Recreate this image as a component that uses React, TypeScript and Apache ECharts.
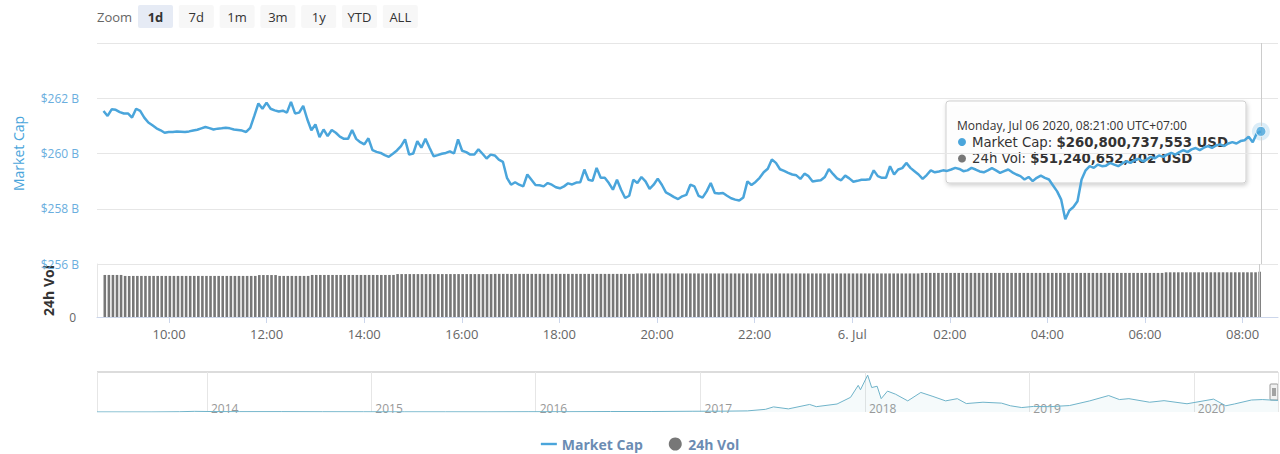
import React, { useEffect, useRef } from "react";
import * as echarts from "echarts";

// ---- data (billions USD) ----
const START = Date.UTC(2020, 6, 5, 8, 41); // local time (UTC+07:00) stored as UTC
const STEP_MIN = 5;

const marketCap: number[] = [
  261.54, 261.36, 261.6, 261.58, 261.5, 261.45, 261.45, 261.3, 261.62, 261.54,
  261.3, 261.12, 261.02, 260.91, 260.84, 260.75, 260.78, 260.78, 260.8, 260.79,
  260.78, 260.8, 260.83, 260.86, 260.91, 260.96, 260.92, 260.87, 260.9, 260.91,
  260.93, 260.91, 260.87, 260.85, 260.83, 260.78, 260.93, 261.36, 261.81, 261.62,
  261.84, 261.62, 261.56, 261.52, 261.55, 261.48, 261.87, 261.45, 261.48, 261.72,
  261.24, 260.84, 261.05, 260.59, 260.87, 260.63, 260.85, 260.75, 260.61, 260.53,
  260.53, 260.85, 260.53, 260.41, 260.33, 260.55, 260.12, 260.06, 260.02, 259.94,
  259.88, 259.99, 260.11, 260.27, 260.51, 259.96, 260.0, 260.45, 260.21, 260.53,
  260.21, 259.9, 259.94, 259.99, 260.02, 260.08, 260.0, 260.51, 260.1, 260.05,
  259.96, 259.96, 260.15, 259.99, 259.82, 259.96,
  259.93, 259.78, 259.7, 259.12, 258.87, 258.96, 258.87, 258.81, 259.24, 259.05,
  258.86, 258.85, 258.81, 258.93, 258.87, 258.78, 258.74, 258.81, 258.92, 258.88,
  258.95, 258.96, 259.42, 259.05, 259.01, 259.48, 259.12, 259.12, 258.93, 258.69,
  259.05, 258.69, 258.39, 258.47, 259.05, 258.93, 259.15, 258.99, 258.72, 258.87,
  259.09, 258.87, 258.59, 258.51, 258.42, 258.35, 258.45, 258.5, 258.87, 258.81,
  258.47, 258.4, 258.63, 258.93, 258.57, 258.55, 258.57, 258.47, 258.38, 258.33,
  258.3, 258.41, 258.99, 258.86, 258.97, 259.12, 259.32, 259.45, 259.78, 259.66,
  259.43, 259.37, 259.3, 259.24, 259.21, 259.08, 259.27, 259.18, 258.99, 259.01,
  259.03, 259.15, 259.44, 259.26, 259.1, 259.03, 259.2, 259.1, 258.98, 259.01,
  259.05, 259.05, 259.07, 259.39, 259.18,
  259.12, 259.12, 259.54, 259.24, 259.42, 259.47, 259.66, 259.48, 259.36, 259.24,
  259.08, 259.22, 259.39, 259.32, 259.35, 259.39, 259.37, 259.42, 259.48, 259.44,
  259.36, 259.39, 259.48, 259.42, 259.35, 259.32, 259.39, 259.47, 259.39, 259.3,
  259.36, 259.42, 259.32, 259.24, 259.18, 259.06, 259.15, 259.0, 259.12, 259.2,
  259.12, 259.06, 258.84, 258.63, 258.33, 257.62, 257.94, 258.06, 258.27, 259.06,
  259.39, 259.54, 259.48, 259.6, 259.54, 259.56, 259.66, 259.6, 259.54, 259.64,
  259.72, 259.66, 259.76, 259.81, 259.72, 259.78, 259.88, 259.83, 259.93, 259.88,
  259.96, 260.02, 259.96, 260.05, 260.12, 260.05, 260.15, 260.2, 260.12, 260.21,
  260.27, 260.2, 260.29, 260.33, 260.27, 260.36, 260.41, 260.36, 260.45, 260.48,
  260.61, 260.41, 260.73, 260.800737553,
];

const volume24h: number[] = [
  47.6, 47.6, 47.6, 47.6, 47.6, 46.5, 46.5, 46.5, 46.5, 46.5,
  46.5, 46.5, 46.5, 46.5, 46.5, 46.5, 46.5, 46.5, 46.5, 46.5,
  46.5, 46.5, 46.5, 46.5, 46.5, 46.5, 46.5, 46.5, 46.5, 46.5,
  46.5, 46.5, 46.5, 46.5, 46.5, 46.5, 46.5, 46.5, 47.5, 47.5,
  47.5, 47.5, 47.5, 46.5, 46.5, 46.5, 46.5, 46.5, 46.5, 46.5,
  46.5, 47.6, 47.6, 47.6, 47.6, 47.6, 47.6, 47.6, 47.6, 47.6,
  47.6, 47.6, 47.6, 47.6, 47.6, 47.6, 47.6, 47.6, 47.6, 47.6,
  47.6, 47.6, 48.6, 48.6, 48.6, 48.6, 48.6, 48.6, 48.6, 48.6,
  48.6, 48.6, 48.6, 48.6, 48.6, 48.6, 48.6, 48.6, 48.6, 48.6,
  48.6, 48.6, 48.6, 48.6, 48.6, 48.6, 48.8, 48.8, 48.8, 48.8,
  48.8, 48.8, 48.8, 48.8, 48.8, 48.8, 48.8, 48.8, 48.8, 48.8,
  48.8, 48.8, 48.8, 48.8, 48.8, 48.8, 48.8, 48.8, 48.8, 48.8,
  48.8, 48.8, 48.8, 48.8, 48.8, 48.8, 48.8, 48.8, 48.8, 48.8,
  48.8, 49.3, 49.3, 49.3, 49.3, 49.3, 49.3, 49.3, 49.3, 49.3,
  49.3, 49.3, 49.3, 49.3, 49.3, 49.3, 49.3, 49.3, 49.3, 49.3,
  49.3, 49.3, 49.3, 49.3, 49.3, 49.3, 49.3, 49.3, 49.3, 49.3,
  49.3, 49.3, 49.3, 49.3, 49.3, 49.3, 49.3, 49.3, 49.3, 49.3,
  49.3, 49.3, 49.3, 49.3, 49.3, 49.3, 49.3, 49.3, 49.3, 49.3,
  49.3, 49.3, 49.3, 49.3, 49.3, 49.3, 49.3, 49.3, 49.3, 49.3,
  49.3, 49.3, 49.3, 49.3, 49.3, 49.3, 49.3, 49.3, 49.3, 49.3,
  49.3, 49.9, 49.9, 49.9, 49.9, 49.9, 49.9, 49.9, 49.9, 49.9,
  49.9, 49.9, 49.9, 49.9, 49.9, 49.9, 49.9, 49.9, 49.9, 49.9,
  49.9, 49.9, 49.9, 49.9, 49.9, 49.9, 49.9, 49.9, 49.9, 49.9,
  49.9, 49.9, 49.9, 49.9, 49.9, 49.9, 49.9, 49.9, 49.9, 49.9,
  49.9, 49.9, 49.9, 49.9, 49.9, 49.9, 49.9, 49.9, 49.9, 49.9,
  49.9, 49.9, 49.9, 49.9, 49.9, 49.9, 49.9, 49.9, 49.9, 49.9,
  49.9, 50.6, 50.6, 50.6, 50.6, 50.6, 50.6, 50.6, 50.6, 50.6,
  50.6, 50.6, 50.6, 50.6, 50.6, 50.6, 50.6, 50.6, 50.6, 50.6,
  50.6, 50.6, 50.6, 50.6, 51.240652402,
];

// navigator: full history of total market cap (billions)
const navDates: string[] = [
  "2013-05-02", "2013-07-01", "2013-09-01", "2013-11-01", "2013-12-04", "2014-01-15",
  "2014-03-15", "2014-06-15", "2014-09-15", "2014-12-15", "2015-03-15", "2015-06-15",
  "2015-09-15", "2015-12-15", "2016-03-15", "2016-06-15", "2016-09-15", "2016-12-15",
  "2017-02-15", "2017-04-15", "2017-05-25", "2017-06-12", "2017-07-15", "2017-08-31",
  "2017-09-15", "2017-10-31", "2017-11-30", "2017-12-17", "2017-12-22", "2018-01-07",
  "2018-01-16", "2018-01-28", "2018-02-06", "2018-02-20", "2018-03-10", "2018-04-06",
  "2018-05-05", "2018-06-01", "2018-06-29", "2018-07-25", "2018-08-14", "2018-09-20",
  "2018-10-31", "2018-11-20", "2018-12-15", "2019-01-10", "2019-02-15", "2019-03-31",
  "2019-05-15", "2019-06-26", "2019-07-20", "2019-08-10", "2019-09-25", "2019-10-27",
  "2019-12-17", "2020-02-14", "2020-03-12", "2020-03-31", "2020-05-08", "2020-06-01",
  "2020-07-06",
];
const navCaps: number[] = [
  1.5, 1.2, 1.6, 6, 15, 10,
  8, 8.5, 6, 5, 4, 4,
  3.8, 6.5, 7, 11, 11, 17,
  18, 25, 60, 115, 70, 170,
  120, 180, 330, 600, 500, 830,
  550, 580, 300, 470, 400, 250,
  440, 350, 250, 300, 190, 220,
  200, 140, 100, 125, 120, 145,
  250, 370, 280, 300, 220, 255,
  185, 290, 140, 180, 270, 280,
  260,
];

const priceTicks = { min: 256, max: 264, step: 2 };
const volumeMax = 60;
const navMaxCap = 900;
const zoomButtons: string[] = ["1d", "7d", "1m", "3m", "1y", "YTD", "ALL"];
const selectedZoom = "1d";

const FONT = "'Open Sans', sans-serif";
const TIP_FONT = "'DejaVu Sans', Verdana, sans-serif";
const LINE_BLUE = "#4aa5db";

const times = marketCap.map((_, i) => START + i * STEP_MIN * 60000);
const lastT = times[times.length - 1];
const lastCap = marketCap[marketCap.length - 1];
const lastVol = volume24h[volume24h.length - 1];

const pad = (n: number) => (n < 10 ? "0" + n : "" + n);
const DAYS = ["Sunday", "Monday", "Tuesday", "Wednesday", "Thursday", "Friday", "Saturday"];
const MONTHS = ["Jan", "Feb", "Mar", "Apr", "May", "Jun", "Jul", "Aug", "Sep", "Oct", "Nov", "Dec"];
const fmtUsd = (b: number) => "$" + Math.round(b * 1e9).toLocaleString("en-US") + " USD";

function tooltipDate(t: number) {
  const d = new Date(t);
  return `${DAYS[d.getUTCDay()]}, ${MONTHS[d.getUTCMonth()]} ${pad(d.getUTCDate())} ${d.getUTCFullYear()}, ${pad(
    d.getUTCHours()
  )}:${pad(d.getUTCMinutes())}:00 UTC+07:00`;
}

export default function App() {
  const ref = useRef<HTMLDivElement>(null);

  useEffect(() => {
    document.body.style.margin = "0";
    if (!ref.current) return;
    const chart = echarts.init(ref.current, null, { renderer: "svg" });

    const xMin = Date.UTC(2020, 6, 5, 8, 33);
    const xMax = Date.UTC(2020, 6, 6, 8, 42);
    const navMin = Date.UTC(2013, 4, 2);
    const navMax = Date.UTC(2020, 6, 6);

    const buttons = zoomButtons.map((b, i) => {
      const sel = b === selectedZoom;
      return {
        type: "group",
        x: 138 + i * 40.8,
        y: 5,
        children: [
          {
            type: "rect",
            shape: { x: 0, y: 0, width: 35, height: 23, r: 2 },
            style: { fill: sel ? "#e6ebf5" : "#f7f7f7" },
          },
          {
            type: "text",
            style: {
              text: b,
              x: 17.5,
              y: 11.5,
              align: "center",
              verticalAlign: "middle",
              fill: "#333",
              fontSize: 13,
              fontWeight: sel ? "bold" : "normal",
              fontFamily: FONT,
            },
          },
        ],
      };
    });

    const rowRich = {
      l: { fill: "#333", color: "#333", fontSize: 13.3, lineHeight: 15, fontFamily: TIP_FONT },
      v: { fill: "#333", color: "#333", fontSize: 13.3, lineHeight: 15, fontWeight: "bold", fontFamily: TIP_FONT },
    };

    const option: any = {
      animation: false,
      useUTC: true,
      textStyle: { fontFamily: FONT },
      grid: [
        { left: 97, right: 2, top: 43, height: 221 },
        { left: 97, right: 2, top: 264, height: 53 },
        { left: 97, right: 2, top: 372, height: 40 },
      ],
      xAxis: [
        { type: "time", gridIndex: 0, min: xMin, max: xMax, show: false },
        {
          type: "time",
          gridIndex: 1,
          min: xMin,
          max: xMax,
          splitNumber: 12,
          axisLine: { show: true, lineStyle: { color: "#ccd6eb" } },
          axisTick: { show: true, length: 6, lineStyle: { color: "#ccd6eb" } },
          splitLine: { show: false },
          axisLabel: {
            color: "#666",
            fontSize: 13,
            margin: 10,
            formatter: (v: number) => {
              const d = new Date(v);
              const h = d.getUTCHours();
              if (h === 0) return `${d.getUTCDate()}. ${MONTHS[d.getUTCMonth()]}`;
              return `${pad(h)}:${pad(d.getUTCMinutes())}`;
            },
          },
        },
        {
          type: "time",
          gridIndex: 2,
          min: navMin,
          max: navMax,
          minInterval: 365 * 24 * 3600 * 1000,
          axisLine: { show: false },
          axisTick: { show: false },
          splitLine: { show: true, lineStyle: { color: "#e6e6e6" } },
          axisLabel: {
            inside: true,
            align: "left",
            margin: -2,
            padding: [0, 0, 0, 4],
            color: "#999",
            fontSize: 12,
            formatter: (v: number) => String(new Date(v).getUTCFullYear()),
          },
        },
      ],
      yAxis: [
        {
          type: "value",
          gridIndex: 0,
          min: priceTicks.min,
          max: priceTicks.max,
          interval: priceTicks.step,
          name: "Market Cap",
          nameLocation: "middle",
          nameGap: 72,
          nameTextStyle: { color: LINE_BLUE, fontSize: 14, fontFamily: FONT },
          axisLine: { show: false },
          axisTick: { show: false },
          splitLine: { lineStyle: { color: "#e6e6e6" } },
          axisLabel: {
            color: "#6aaede",
            fontSize: 12,
            margin: 18,
            showMaxLabel: false,
            formatter: (v: number) => `$${v} B`,
          },
        },
        {
          type: "value",
          gridIndex: 1,
          min: 0,
          max: volumeMax,
          interval: volumeMax,
          name: "24h Vol",
          nameLocation: "middle",
          nameGap: 42,
          nameTextStyle: { color: "#333", fontSize: 14, fontWeight: "bold", fontFamily: FONT },
          axisLine: { show: true, lineStyle: { color: "#e6e6e6" } },
          axisTick: { show: false },
          splitLine: { show: false },
          axisLabel: {
            color: "#666",
            fontSize: 12,
            margin: 21,
            formatter: (v: number) => (v === 0 ? "0" : ""),
          },
        },
        { type: "value", gridIndex: 2, min: 0, max: navMaxCap, show: false },
      ],
      legend: {
        top: 432,
        left: "center",
        itemGap: 26,
        itemWidth: 16,
        itemHeight: 13,
        symbolKeepAspect: true,
        data: [
          { name: "Market Cap", icon: "path://M0 0H16V2.4H0Z" },
          { name: "24h Vol", icon: "circle" },
        ],
        textStyle: { color: "#6b8cb3", fontSize: 14, fontWeight: "bold", fontFamily: FONT },
      },
      series: [
        {
          name: "Market Cap",
          type: "line",
          xAxisIndex: 0,
          yAxisIndex: 0,
          symbol: "none",
          data: times.map((t, i) => [t, marketCap[i]]),
          lineStyle: { color: LINE_BLUE, width: 2.5 },
          itemStyle: { color: LINE_BLUE },
          markLine: {
            silent: true,
            symbol: ["none", "none"],
            label: { show: false },
            lineStyle: { color: "#cccccc", width: 1, type: "solid" },
            data: [{ xAxis: lastT }],
          },
          z: 3,
        },
        {
          type: "scatter",
          xAxisIndex: 0,
          yAxisIndex: 0,
          symbolSize: 18,
          data: [[lastT, lastCap]],
          itemStyle: { color: "rgba(74,165,219,0.25)" },
          z: 4,
        },
        {
          type: "scatter",
          xAxisIndex: 0,
          yAxisIndex: 0,
          symbolSize: 10,
          data: [[lastT, lastCap]],
          itemStyle: { color: LINE_BLUE, borderColor: "#fff", borderWidth: 1 },
          z: 5,
        },
        {
          name: "24h Vol",
          type: "bar",
          xAxisIndex: 1,
          yAxisIndex: 1,
          barWidth: 2.6,
          data: times.map((t, i) => [t, volume24h[i]]),
          itemStyle: { color: "#777" },
          markLine: {
            silent: true,
            symbol: ["none", "none"],
            label: { show: false },
            lineStyle: { color: "#cccccc", width: 1, type: "solid" },
            data: [{ xAxis: lastT }],
          },
        },
        {
          type: "line",
          xAxisIndex: 2,
          yAxisIndex: 2,
          symbol: "none",
          data: navDates.map((d, i) => [Date.parse(d + "T00:00:00Z"), navCaps[i]]),
          lineStyle: { color: "#6fb3c9", width: 1 },
          areaStyle: { color: "rgba(111,179,201,0.1)" },
        },
      ],
      graphic: [
        {
          type: "text",
          x: 97,
          y: 16.5,
          style: { text: "Zoom", fill: "#666", fontSize: 13, fontFamily: FONT, verticalAlign: "middle" },
        },
        ...buttons,
        {
          type: "rect",
          shape: { x: 97, y: 371, width: 1181, height: 2 },
          style: { fill: "#dcdcdc" },
        },
        {
          type: "group",
          x: 1270,
          y: 384,
          z: 50,
          children: [
            { type: "rect", shape: { x: 0, y: 0, width: 8, height: 16, r: 1 }, style: { fill: "#f2f2f2", stroke: "#999", lineWidth: 1 } },
            { type: "line", shape: { x1: 3, y1: 4, x2: 3, y2: 12 }, style: { stroke: "#555", lineWidth: 1 } },
            { type: "line", shape: { x1: 5, y1: 4, x2: 5, y2: 12 }, style: { stroke: "#555", lineWidth: 1 } },
          ],
        },
        {
          type: "group",
          x: 946,
          y: 101,
          z: 100,
          children: [
            {
              type: "rect",
              shape: { x: 0, y: 0, width: 300, height: 82, r: 3 },
              style: {
                fill: "rgba(255,255,255,0.92)",
                stroke: "#cfcfcf",
                lineWidth: 1,
                shadowBlur: 4,
                shadowOffsetX: 1,
                shadowOffsetY: 2,
                shadowColor: "rgba(0,0,0,0.2)",
              },
            },
            {
              type: "text",
              style: { text: tooltipDate(lastT), x: 11, y: 24, verticalAlign: "middle", fill: "#333", fontSize: 12, fontFamily: FONT },
            },
            { type: "circle", shape: { cx: 16, cy: 41, r: 4 }, style: { fill: LINE_BLUE } },
            {
              type: "text",
              style: { text: `{l|Market Cap: }{v|${fmtUsd(lastCap)}}`, x: 26, y: 41, verticalAlign: "middle", rich: rowRich },
            },
            { type: "circle", shape: { cx: 16, cy: 57.5, r: 4 }, style: { fill: "#777" } },
            {
              type: "text",
              style: { text: `{l|24h Vol: }{v|${fmtUsd(lastVol)}}`, x: 26, y: 57.5, verticalAlign: "middle", rich: rowRich },
            },
          ],
        },
      ],
    };

    chart.setOption(option);
    return () => chart.dispose();
  }, []);

  return <div ref={ref} style={{ width: 1280, height: 454 }} />;
}
